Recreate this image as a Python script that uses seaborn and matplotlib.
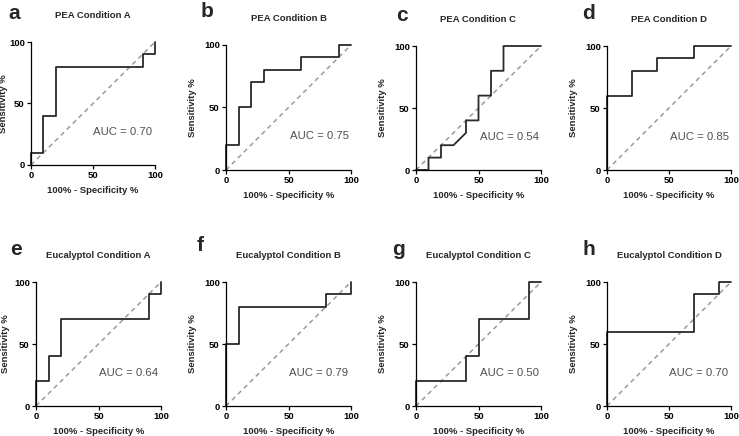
import matplotlib
matplotlib.use("Agg")
import matplotlib.pyplot as plt
import pandas as pd
import seaborn as sns

# ROC curve points (100% - specificity, sensitivity) for each panel
pea_a_fpr = [0, 0, 10, 10, 20, 20, 90, 90, 100, 100]
pea_a_tpr = [0, 10, 10, 40, 40, 80, 80, 90, 90, 100]
pea_b_fpr = [0, 0, 10, 10, 20, 20, 30, 30, 60, 60, 90, 90, 100]
pea_b_tpr = [0, 20, 20, 50, 50, 70, 70, 80, 80, 90, 90, 100, 100]
pea_c_fpr = [0, 10, 10, 20, 20, 30, 40, 40, 50, 50, 60, 60, 70, 70, 100]
pea_c_tpr = [0, 0, 10, 10, 20, 20, 30, 40, 40, 60, 60, 80, 80, 100, 100]
pea_d_fpr = [0, 0, 20, 20, 40, 40, 70, 70, 100]
pea_d_tpr = [0, 60, 60, 80, 80, 90, 90, 100, 100]
euc_a_fpr = [0, 0, 10, 10, 20, 20, 90, 90, 100, 100]
euc_a_tpr = [0, 20, 20, 40, 40, 70, 70, 90, 90, 100]
euc_b_fpr = [0, 0, 10, 10, 80, 80, 100, 100]
euc_b_tpr = [0, 50, 50, 80, 80, 90, 90, 100]
euc_c_fpr = [0, 0, 40, 40, 50, 50, 90, 90, 100]
euc_c_tpr = [0, 20, 20, 40, 40, 70, 70, 100, 100]
euc_d_fpr = [0, 0, 70, 70, 90, 90, 100]
euc_d_tpr = [0, 60, 60, 90, 90, 100, 100]

panel_letters = ["a", "b", "c", "d", "e", "f", "g", "h"]
panel_titles = [
    "PEA Condition A", "PEA Condition B", "PEA Condition C", "PEA Condition D",
    "Eucalyptol Condition A", "Eucalyptol Condition B",
    "Eucalyptol Condition C", "Eucalyptol Condition D",
]
auc_values = [0.70, 0.75, 0.54, 0.85, 0.64, 0.79, 0.50, 0.70]
curves = [
    (pea_a_fpr, pea_a_tpr), (pea_b_fpr, pea_b_tpr),
    (pea_c_fpr, pea_c_tpr), (pea_d_fpr, pea_d_tpr),
    (euc_a_fpr, euc_a_tpr), (euc_b_fpr, euc_b_tpr),
    (euc_c_fpr, euc_c_tpr), (euc_d_fpr, euc_d_tpr),
]
ticks = [0, 50, 100]

sns.set_theme(style="ticks")
plt.rcParams["font.family"] = ["Liberation Sans", "DejaVu Sans"]

W, H = 739, 436
fig = plt.figure(figsize=(W / 100, H / 100), dpi=100)

# axes boxes in pixels: left, top, right, bottom
boxes = [
    (31, 42, 155, 165), (226, 45, 351, 170), (416, 46, 541, 170), (607, 46, 731, 170),
    (36, 282, 161, 406), (226, 282, 351, 406), (416, 282, 541, 406), (607, 282, 731, 406),
]
letter_pos = [(8, 4), (201, 2), (396, 6), (582, 4), (10, 240), (197, 236), (392, 240), (582, 240)]
ylabel_x = [-0.185, -0.23, -0.23, -0.23, -0.21, -0.23, -0.23, -0.23]

for i, (fpr, tpr) in enumerate(curves):
    l, t, r, b = boxes[i]
    ax = fig.add_axes([l / W, 1 - b / H, (r - l) / W, (b - t) / H])
    df = pd.DataFrame({"fpr": fpr, "tpr": tpr})
    ax.plot([0, 100], [0, 100], ls=(0, (3, 2.5)), color="#9a9a9a", lw=1.1, clip_on=False)
    sns.lineplot(data=df, x="fpr", y="tpr", sort=False, estimator=None, ax=ax,
                 color="#2a2a2a", lw=1.3, clip_on=False)
    ax.set_xlim(0, 100)
    ax.set_ylim(0, 100)
    ax.set_xticks(ticks)
    ax.set_yticks(ticks)
    ax.tick_params(length=3, width=0.9, pad=1.5, labelsize=6.8, colors="black")
    for lab in ax.get_xticklabels() + ax.get_yticklabels():
        lab.set_fontweight("bold")
    sns.despine(ax=ax)
    for sp in ("left", "bottom"):
        ax.spines[sp].set_linewidth(0.9)
        ax.spines[sp].set_color("black")
    ax.set_xlabel("100% - Specificity %", fontsize=6.8, fontweight="bold")
    ax.set_ylabel("Sensitivity %", fontsize=6.8, fontweight="bold")
    ax.xaxis.set_label_coords(0.5, -0.17)
    ax.yaxis.set_label_coords(ylabel_x[i], 0.5)
    ax.text(98, 27, f"AUC = {auc_values[i]:.2f}", ha="right", va="center",
            fontsize=8.2, color="#505050")
    ax.set_title(panel_titles[i], fontsize=6.8, fontweight="bold", pad=17.5)
    lx, ly = letter_pos[i]
    fig.text(lx / W, 1 - ly / H, panel_letters[i], fontsize=15, fontweight="bold",
             ha="left", va="top")

fig.savefig("out.png", dpi=100)
